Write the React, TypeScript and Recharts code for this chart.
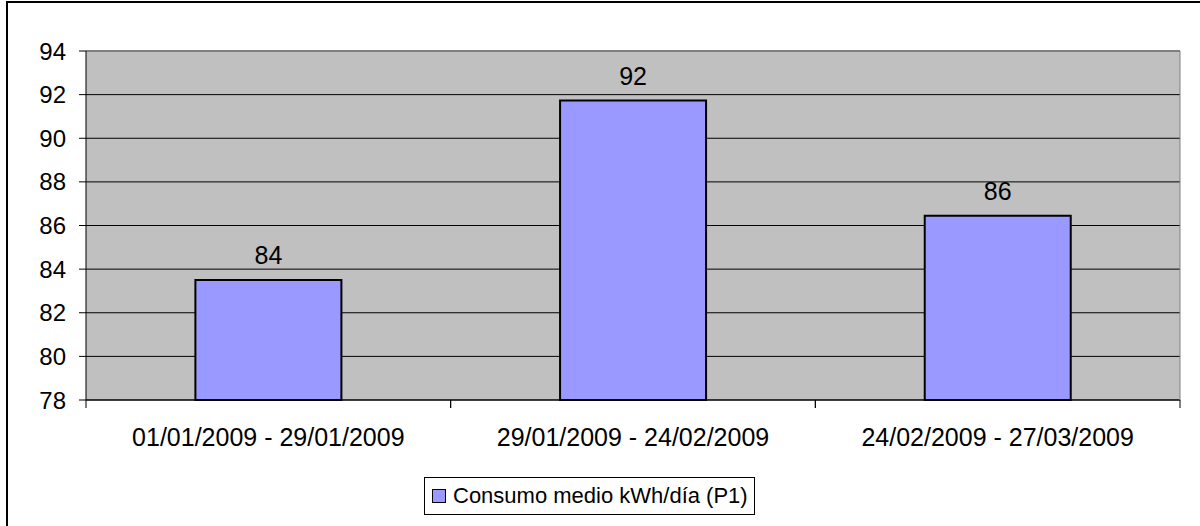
import React from "react";
import {
  BarChart,
  Bar,
  XAxis,
  YAxis,
  CartesianGrid,
  LabelList,
  ReferenceLine,
} from "recharts";

const categories = [
  "01/01/2009 - 29/01/2009",
  "29/01/2009 - 24/02/2009",
  "24/02/2009 - 27/03/2009",
];
const consumo = [83.5, 91.73, 86.45];
const yTicks = [78, 80, 82, 84, 86, 88, 90, 92, 94];
const seriesName = "Consumo medio kWh/día (P1)";

const FONT = '"Liberation Sans", Arial, sans-serif';
const BAR_FILL = "#9999FF";

const data = categories.map((name, i) => ({ name, value: consumo[i] }));

// category labels plus tick marks on the band edges (Excel style)
const CategoryTick = (props: any) => {
  const { x, y, payload } = props;
  const half = payload?.offset ?? 0;
  const top = y - 28;
  return (
    <g>
      <line x1={x - half} x2={x - half} y1={top} y2={top + 8} stroke="#000" />
      <line x1={x + half} x2={x + half} y1={top} y2={top + 8} stroke="#000" />
      <text
        x={x}
        y={y}
        dy="0.71em"
        textAnchor="middle"
        fill="#000"
        fontSize={25}
        fontFamily={FONT}
      >
        {payload.value}
      </text>
    </g>
  );
};

export default function App() {
  return (
    <div
      style={{
        position: "absolute",
        left: 0,
        top: 0,
        width: 1200,
        height: 526,
        background: "#fff",
        overflow: "hidden",
        fontFamily: FONT,
      }}
    >
      <div
        style={{
          position: "absolute",
          left: 6,
          top: 1,
          width: 1210,
          height: 540,
          borderLeft: "2px solid #000",
          borderTop: "2px solid #000",
        }}
      />
      <BarChart
        width={1200}
        height={526}
        data={data}
        margin={{ top: 51, right: 19, left: 0, bottom: 66 }}
        barCategoryGap="30%"
      >
        <CartesianGrid vertical={false} stroke="#000" fill="#C0C0C0" />
        <XAxis
          dataKey="name"
          height={60}
          tickSize={8}
          tickMargin={20}
          tickLine={false}
          axisLine={{ stroke: "#000" }}
          tick={<CategoryTick />}
          interval={0}
        />
        <YAxis
          width={86}
          domain={[78, 94]}
          ticks={yTicks}
          interval={0}
          tickSize={7}
          tickMargin={13}
          axisLine={{ stroke: "#000" }}
          tickLine={{ stroke: "#000" }}
          tick={{ fill: "#000", fontSize: 24, fontFamily: FONT }}
        />
        <YAxis
          yAxisId="right"
          orientation="right"
          width={1}
          domain={[78, 94]}
          tick={false}
          tickLine={false}
          axisLine={{ stroke: "#808080" }}
        />
        <ReferenceLine y={94} stroke="#808080" strokeWidth={2} />
        <Bar
          dataKey="value"
          name={seriesName}
          fill={BAR_FILL}
          stroke="#000"
          strokeWidth={2}
          isAnimationActive={false}
        >
          <LabelList
            dataKey="value"
            position="top"
            offset={16}
            formatter={(v: any) => Math.round(Number(v))}
            fill="#000"
            fontSize={25}
            fontFamily={FONT}
          />
        </Bar>
      </BarChart>
      <div
        style={{
          position: "absolute",
          left: 424,
          top: 477,
          width: 331,
          height: 38,
          boxSizing: "border-box",
          border: "1px solid #000",
          display: "flex",
          alignItems: "center",
          paddingLeft: 7,
          fontSize: 22,
          color: "#000",
        }}
      >
        <span
          style={{
            display: "inline-block",
            width: 12,
            height: 12,
            background: BAR_FILL,
            border: "1px solid #000",
            marginRight: 7,
          }}
        />
        <span>{seriesName}</span>
      </div>
    </div>
  );
}
